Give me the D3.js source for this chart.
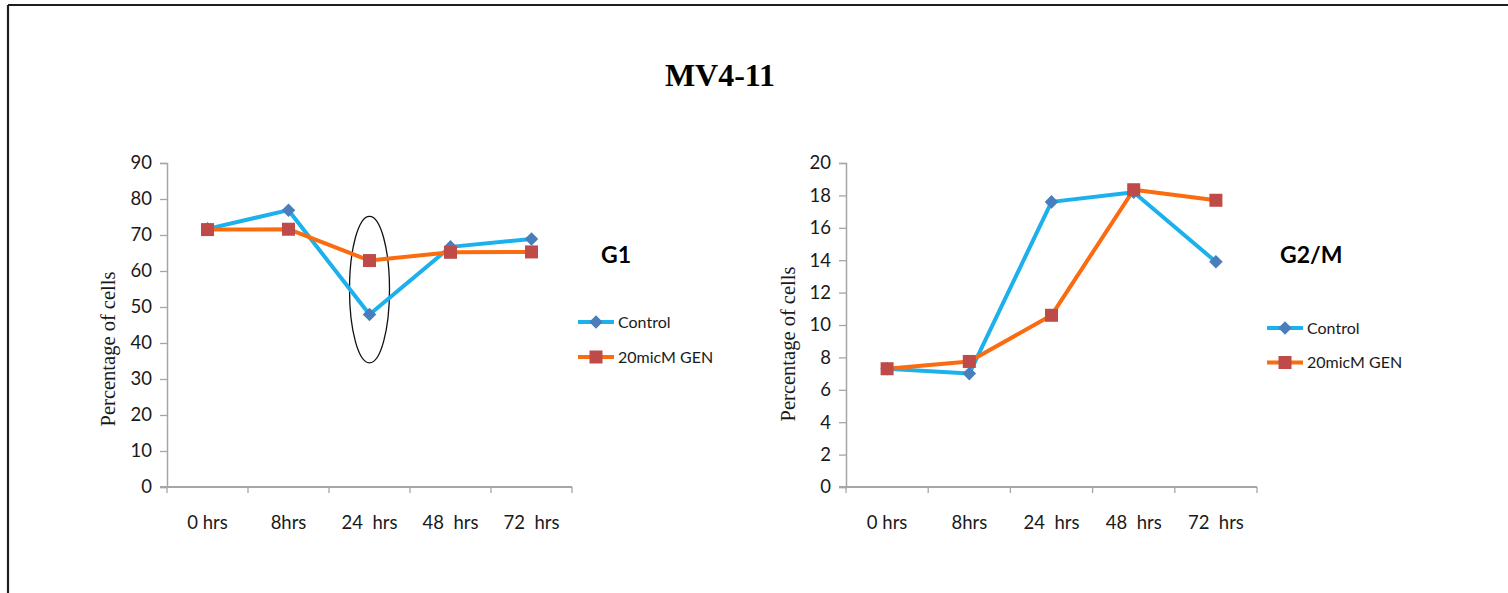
<!DOCTYPE html>
<html>
<head>
<meta charset="utf-8">
<script src="https://cdn.jsdelivr.net/npm/d3@7"></script>
<style>
  html, body { margin: 0; padding: 0; background: #fff; }
  svg { display: block; }
  text { white-space: pre; }
</style>
</head>
<body>
<svg id="chart" width="1508" height="593"></svg>
<script>
// Time points shared by both panels
const timepoints = ["0 hrs", "8hrs", "24  hrs", "48  hrs", "72  hrs"];
const seriesNames = ["Control", "20micM GEN"];

// G1 phase (% of cells)
const g1Control = [71.7, 76.9, 47.9, 66.7, 68.9];
const g1Gen     = [71.5, 71.6, 62.9, 65.2, 65.3];
const g1Ticks   = [0, 10, 20, 30, 40, 50, 60, 70, 80, 90];

// G2/M phase (% of cells)
const g2mControl = [7.3, 7.0, 17.6, 18.2, 13.9];
const g2mGen     = [7.3, 7.75, 10.6, 18.35, 17.7];
const g2mTicks   = [0, 2, 4, 6, 8, 10, 12, 14, 16, 18, 20];

const svg = d3.select("#chart");

const colors = {
  controlLine: "#1cb0ec",
  controlMark: "#4a7ebb",
  genLine: "#fb6b10",
  genMark: "#be4b48",
  axis: "#a6a6a6",
  text: "#1a1a1a"
};

// Frame lines along the top and left edges
svg.append("line").attr("x1", 8).attr("y1", 5).attr("x2", 1508).attr("y2", 5)
  .attr("stroke", "#1e1e1e").attr("stroke-width", 2.2);
svg.append("line").attr("x1", 8).attr("y1", 5).attr("x2", 8).attr("y2", 593)
  .attr("stroke", "#1e1e1e").attr("stroke-width", 2.2);

// Main title
svg.append("text")
  .attr("x", 720).attr("y", 86)
  .attr("text-anchor", "middle")
  .attr("font-family", "'Liberation Serif', 'Times New Roman', serif")
  .attr("font-weight", "bold")
  .attr("font-size", 32)
  .attr("fill", "#000")
  .text("MV4-11");

function panel(cfg) {
  const g = svg.append("g");
  const x = d3.scaleBand().domain(timepoints).range([cfg.x0, cfg.x1]).padding(0);
  const y = d3.scaleLinear().domain([0, cfg.yMax]).range([cfg.yBottom, cfg.yTop]);
  const cx = d => x(d) + x.bandwidth() / 2;

  // Y axis
  const yAxis = g.append("g")
    .attr("transform", `translate(${cfg.x0},0)`)
    .call(d3.axisLeft(y).tickValues(cfg.ticks).tickSize(7).tickPadding(8).tickFormat(d3.format("d")));
  yAxis.select(".domain").attr("stroke", colors.axis).attr("stroke-width", 1.5);
  yAxis.selectAll(".tick line").attr("stroke", colors.axis).attr("stroke-width", 1.3);
  yAxis.selectAll(".tick text")
    .attr("font-family", "Lato, 'Open Sans', sans-serif")
    .attr("font-size", 18.5).attr("fill", colors.text);

  // X axis with ticks on the category boundaries
  const boundaries = timepoints.map(d => x(d)).concat([cfg.x1]);
  const xg = g.append("g");
  xg.append("line")
    .attr("x1", cfg.x0 - 7).attr("x2", cfg.x1)
    .attr("y1", cfg.yBottom).attr("y2", cfg.yBottom)
    .attr("stroke", colors.axis).attr("stroke-width", 2);
  xg.selectAll("line.bt").data(boundaries).join("line")
    .attr("class", "bt")
    .attr("x1", d => d).attr("x2", d => d)
    .attr("y1", cfg.yBottom).attr("y2", cfg.yBottom + 6)
    .attr("stroke", colors.axis).attr("stroke-width", 1.3);
  xg.selectAll("text").data(timepoints).join("text")
    .attr("x", d => cx(d)).attr("y", cfg.yBottom + 42)
    .attr("text-anchor", "middle")
    .attr("font-family", "Lato, 'Open Sans', sans-serif")
    .attr("font-size", 18.5).attr("fill", colors.text)
    .text(d => d);

  // Y axis title
  g.append("text")
    .attr("transform", `translate(${cfg.titleX},${cfg.titleY}) rotate(-90)`)
    .attr("text-anchor", "middle")
    .attr("font-family", "'Liberation Serif', 'Times New Roman', serif")
    .attr("font-size", 20.5).attr("fill", colors.text)
    .text("Percentage of cells");

  if (cfg.ellipse) {
    g.append("ellipse")
      .attr("cx", cx(timepoints[cfg.ellipse.index]))
      .attr("cy", y(cfg.ellipse.mid))
      .attr("rx", cfg.ellipse.rx)
      .attr("ry", (y(cfg.ellipse.lo) - y(cfg.ellipse.hi)) / 2)
      .attr("fill", "none").attr("stroke", "#111").attr("stroke-width", 1.3);
  }

  const line = d3.line().x((d, i) => cx(timepoints[i])).y(d => y(d));
  const diamond = d3.symbol(d3.symbolSquare, 92);

  // Control series: line then diamond markers
  g.append("path").datum(cfg.control).attr("d", line)
    .attr("fill", "none").attr("stroke", colors.controlLine)
    .attr("stroke-width", 4).attr("stroke-linejoin", "round");
  g.selectAll("path.dia").data(cfg.control).join("path")
    .attr("class", "dia")
    .attr("d", diamond)
    .attr("transform", (d, i) => `translate(${cx(timepoints[i])},${y(d)}) rotate(45)`)
    .attr("fill", colors.controlMark);

  // GEN series: line then square markers
  g.append("path").datum(cfg.gen).attr("d", line)
    .attr("fill", "none").attr("stroke", colors.genLine)
    .attr("stroke-width", 4).attr("stroke-linejoin", "round");
  g.selectAll("rect.sq").data(cfg.gen).join("rect")
    .attr("class", "sq")
    .attr("x", (d, i) => cx(timepoints[i]) - 6.5)
    .attr("y", d => y(d) - 6.5)
    .attr("width", 13).attr("height", 13)
    .attr("fill", colors.genMark);

  // Phase label
  g.append("text")
    .attr("x", cfg.phaseX).attr("y", cfg.phaseY)
    .attr("font-family", "Lato, 'Open Sans', sans-serif")
    .attr("font-weight", "bold")
    .attr("font-size", 23).attr("fill", "#000")
    .text(cfg.phase);

  // Legend
  const lg = g.append("g").attr("transform", `translate(${cfg.legX},${cfg.legY})`);
  seriesNames.forEach((name, i) => {
    const yy = i * cfg.legGap;
    lg.append("line").attr("x1", 0).attr("x2", 36).attr("y1", yy).attr("y2", yy)
      .attr("stroke", i === 0 ? colors.controlLine : colors.genLine).attr("stroke-width", 4);
    if (i === 0) {
      lg.append("path").attr("d", diamond)
        .attr("transform", `translate(18,${yy}) rotate(45)`)
        .attr("fill", colors.controlMark);
    } else {
      lg.append("rect").attr("x", 11.5).attr("y", yy - 6.5).attr("width", 13).attr("height", 13)
        .attr("fill", colors.genMark);
    }
    lg.append("text").attr("x", 40).attr("y", yy).attr("dy", "0.35em")
      .attr("font-family", "Lato, 'Open Sans', sans-serif")
      .attr("font-size", 16).attr("fill", colors.text)
      .text(name);
  });
}

panel({
  x0: 167, x1: 572, yTop: 163, yBottom: 487, yMax: 90, ticks: g1Ticks,
  control: g1Control, gen: g1Gen,
  titleX: 115, titleY: 349,
  phase: "G1", phaseX: 601, phaseY: 263,
  legX: 578, legY: 322, legGap: 35,
  ellipse: { index: 2, lo: 34.5, hi: 75.2, mid: (34.5 + 75.2) / 2, rx: 20 }
});

panel({
  x0: 846, x1: 1257, yTop: 163, yBottom: 487, yMax: 20, ticks: g2mTicks,
  control: g2mControl, gen: g2mGen,
  titleX: 795, titleY: 344,
  phase: "G2/M", phaseX: 1280, phaseY: 263,
  legX: 1267, legY: 328, legGap: 34.5
});
</script>
</body>
</html>
